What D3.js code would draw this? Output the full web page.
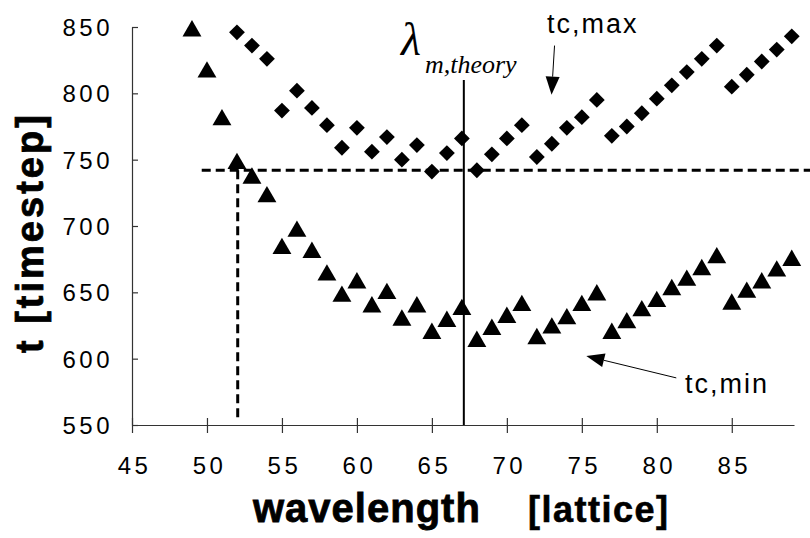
<!DOCTYPE html>
<html>
<head>
<meta charset="utf-8">
<script src="https://cdn.jsdelivr.net/npm/d3@7"></script>
<style>
  body { margin: 0; background: #fff; }
  svg { display: block; }
</style>
</head>
<body>
<div id="chart"></div>
<script>
// wavelength [lattice] for each series
const minWavelengths = [49, 50, 51, 52, 53, 54, 55, 56, 57, 58, 59, 60, 61, 62, 63, 64, 65, 66, 67, 68,
    69, 70, 71, 72, 73, 74, 75, 76, 77, 78, 79, 80, 81, 82, 83, 84, 85, 86, 87, 88, 89];
const tcMin = [847, 816, 780, 747, 736, 722, 683, 696, 680, 663, 647, 657, 639, 649, 629, 639, 619, 628, 637, 613,
    622, 631, 640, 615, 623, 630, 640, 648, 619, 627, 636, 643, 652, 659, 667, 676, 641, 650, 657, 666, 674];

const maxWavelengths = [52, 53, 54, 55, 56, 57, 58, 59, 60, 61, 62, 63, 64, 65, 66, 67, 68, 69, 70,
    71, 72, 73, 74, 75, 76, 77, 78, 79, 80, 81, 82, 83, 84, 85, 86, 87, 88, 89];
const tcMax = [846, 836, 826, 787, 802, 789, 776, 759, 774, 756, 767, 750, 761, 741, 755, 766, 742, 754, 766,
    776, 752, 762, 774, 782, 795, 768, 775, 785, 796, 806, 816, 826, 836, 805, 814, 824, 833, 843];

const xTicks = [45, 50, 55, 60, 65, 70, 75, 80, 85];
const yTicks = [550, 600, 650, 700, 750, 800, 850];

const lambdaTheory = 67.13;   // solid vertical line
const tCritical = 742;        // dashed horizontal line
const lambdaCritical = 52.05; // dashed vertical line

const width = 810, height = 538;

const x = d3.scaleLinear().domain([45, 89.15]).range([132, 794]);
const y = d3.scaleLinear().domain([550, 850]).range([425, 27]);

const svg = d3.select("#chart")
    .append("svg")
    .attr("width", width)
    .attr("height", height);

const sans = "Liberation Sans, Arial, sans-serif";

// axes
const xAxis = svg.append("g")
    .attr("transform", "translate(0," + y(550) + ")")
    .call(d3.axisBottom(x).tickValues(xTicks).tickSizeInner(8).tickSizeOuter(0).tickFormat(d3.format("d")));
xAxis.selectAll(".tick line").attr("y1", -7);
xAxis.selectAll(".tick text")
    .attr("y", 49)
    .attr("dy", 0)
    .attr("dx", 2)
    .style("font-family", sans)
    .style("font-size", "24px")
    .style("letter-spacing", "3.5px")
    .attr("fill", "#000");

const yAxis = svg.append("g")
    .attr("transform", "translate(" + x(45) + ",0)")
    .call(d3.axisLeft(y).tickValues(yTicks).tickSizeInner(9).tickSizeOuter(0).tickFormat(d3.format("d")));
yAxis.selectAll(".tick line").attr("x2", 6);
yAxis.selectAll(".tick text")
    .attr("x", -19)
    .attr("dy", "0.36em")
    .style("font-family", sans)
    .style("font-size", "24px")
    .style("letter-spacing", "3.5px")
    .attr("fill", "#000");

svg.selectAll(".domain, .tick line").attr("stroke", "#333").attr("stroke-width", 1.2);

// reference lines
svg.append("line")
    .attr("x1", x(49.65)).attr("x2", width)
    .attr("y1", y(tCritical)).attr("y2", y(tCritical))
    .attr("stroke", "#000").attr("stroke-width", 3)
    .attr("stroke-dasharray", "9,5");

svg.append("line")
    .attr("x1", x(lambdaCritical)).attr("x2", x(lambdaCritical))
    .attr("y1", y(tCritical)).attr("y2", y(554))
    .attr("stroke", "#000").attr("stroke-width", 3)
    .attr("stroke-dasharray", "9,5");

svg.append("line")
    .attr("x1", x(lambdaTheory)).attr("x2", x(lambdaTheory))
    .attr("y1", y(810)).attr("y2", y(550))
    .attr("stroke", "#000").attr("stroke-width", 2);

// markers
const triangle = d3.symbol().type(d3.symbolTriangle).size(155);
const diamond = d3.symbol().type(d3.symbolSquare).size(125);

svg.append("g").selectAll("path")
    .data(d3.zip(minWavelengths, tcMin))
    .join("path")
    .attr("d", triangle)
    .attr("transform", d => "translate(" + x(d[0]) + "," + y(d[1]) + ")")
    .attr("fill", "#000");

svg.append("g").selectAll("path")
    .data(d3.zip(maxWavelengths, tcMax))
    .join("path")
    .attr("d", diamond)
    .attr("transform", d => "translate(" + x(d[0]) + "," + y(d[1]) + ") rotate(45)")
    .attr("fill", "#000");

// annotations
const lam = svg.append("text")
    .attr("x", 401).attr("y", 55)
    .style("font-family", "Liberation Serif, Times New Roman, serif")
    .attr("fill", "#000");
lam.append("tspan").style("font-size", "46px").style("font-style", "italic").text("λ");
lam.append("tspan").attr("y", 73).attr("dx", 4).style("font-size", "26px").style("font-style", "italic").text("m,theory");

svg.append("text")
    .attr("x", 547).attr("y", 33)
    .style("font-family", sans).style("font-size", "27px").style("letter-spacing", "2px")
    .attr("fill", "#000").text("tc,max");

svg.append("text")
    .attr("x", 685).attr("y", 393)
    .style("font-family", sans).style("font-size", "27px").style("letter-spacing", "2px")
    .attr("fill", "#000").text("tc,min");

function arrow(x1, y1, x2, y2) {
    const ang = Math.atan2(y2 - y1, x2 - x1);
    const len = 18, half = 7;
    const bx = x2 - len * Math.cos(ang), by = y2 - len * Math.sin(ang);
    svg.append("line")
        .attr("x1", x1).attr("y1", y1).attr("x2", bx).attr("y2", by)
        .attr("stroke", "#000").attr("stroke-width", 1);
    svg.append("path")
        .attr("d", "M" + x2 + "," + y2
            + "L" + (bx - half * Math.sin(ang)) + "," + (by + half * Math.cos(ang))
            + "L" + (bx + half * Math.sin(ang)) + "," + (by - half * Math.cos(ang)) + "Z")
        .attr("fill", "#000");
}
arrow(x(73.18), y(836), x(72.98), y(799));
arrow(x(81.3), y(585.5), x(75.3), y(602));

// axis titles
svg.append("text")
    .attr("x", 253).attr("y", 522)
    .style("font-family", sans).style("font-size", "40px").style("font-weight", "bold")
    .style("letter-spacing", "1px")
    .attr("stroke", "#000").attr("stroke-width", 0.8)
    .attr("fill", "#000").text("wavelength");

svg.append("text")
    .attr("x", 528).attr("y", 522)
    .style("font-family", sans).style("font-size", "36px").style("font-weight", "bold")
    .style("letter-spacing", "1.5px")
    .attr("stroke", "#000").attr("stroke-width", 0.6)
    .attr("fill", "#000").text("[lattice]");

svg.append("text")
    .attr("transform", "translate(43,353) rotate(-90)")
    .style("font-family", sans).style("font-size", "38px").style("font-weight", "bold")
    .style("letter-spacing", "3px")
    .attr("stroke", "#000").attr("stroke-width", 0.8)
    .attr("fill", "#000").text("t [timestep]");
</script>
</body>
</html>
